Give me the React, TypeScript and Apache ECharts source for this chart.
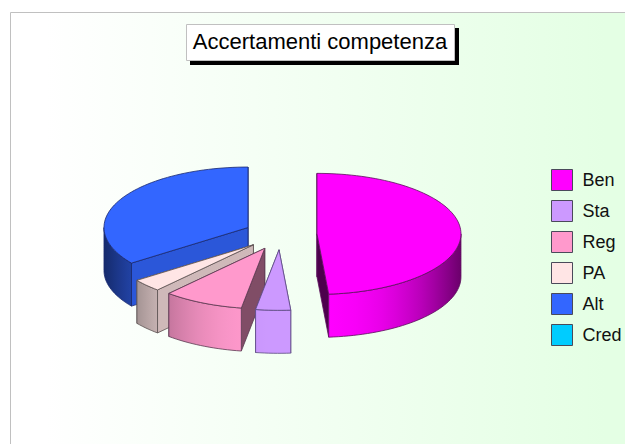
import React, { useEffect, useRef } from "react";
import * as echarts from "echarts";

const TITLE = "Accertamenti competenza";
const CATEGORIES = ["Ben", "Sta", "Reg", "PA", "Alt", "Cred"];
const SHARES = [48.7, 3.9, 9.0, 3.4, 35.0, 0];

const COLORS = ["#ff00ff", "#cc99ff", "#ff99cc", "#ffe5e5", "#3366ff", "#00ccff"];
const STROKES = ["#5a105a", "#5a4a80", "#5a3a50", "#5a5050", "#1a2a70", "#103a50"];
const WALL_SHADE = [0.3, 0.8, 0.5, 0.81, 0.85, 0.8];
const LAYER = [2, 5, 4, 3, 2, 2];

const CX = 280.5;
const CY = 234.5;
const RX = 144;
const RY = 60.5;
const DEPTH = 43;
const EXPLODE = 36.5;

const rad = (d: number) => (d * Math.PI) / 180;

function shade(hex: string, f: number) {
  const n = parseInt(hex.slice(1), 16);
  const c = (v: number) => Math.max(0, Math.min(255, Math.round(v * f)));
  return `rgb(${c((n >> 16) & 255)},${c((n >> 8) & 255)},${c(n & 255)})`;
}

function makeRender(index: number) {
  const total = SHARES.reduce((a, b) => a + b, 0);
  const startShare = SHARES.slice(0, index).reduce((a, b) => a + b, 0);
  return (_params: any, api: any) => {
    const value = api.value(0);
    if (!value) return { type: "group", children: [] };
    const a0 = (startShare / total) * 360;
    const a1 = a0 + (value / total) * 360;
    const mid = (a0 + a1) / 2;
    const ax = CX + EXPLODE * Math.sin(rad(mid));
    const ay = CY - EXPLODE * (RY / RX) * Math.cos(rad(mid));
    const rim = (a: number, dy = 0): number[] => [
      ax + RX * Math.sin(rad(a)),
      ay - RY * Math.cos(rad(a)) + dy,
    ];
    const arc = (from: number, to: number, dy = 0) => {
      const n = Math.max(2, Math.ceil(Math.abs(to - from) / 2));
      const pts: number[][] = [];
      for (let i = 0; i <= n; i++) pts.push(rim(from + ((to - from) * i) / n, dy));
      return pts;
    };
    const base = COLORS[index];
    const stroke = STROKES[index];
    const line = { stroke, lineWidth: 0.8, lineJoin: "round" };
    const children: any[] = [];

    // the wall facing away from the viewer goes first, so the visible one covers it
    (mid > 180 ? [a1, a0] : [a0, a1]).forEach((a) => {
      const r = rim(a);
      const r2 = rim(a, DEPTH);
      children.push({
        type: "polygon",
        shape: { points: [[ax, ay], r, r2, [ax, ay + DEPTH]] },
        style: { fill: shade(base, WALL_SHADE[index]), ...line },
      });
    });

    const s0 = Math.max(a0, 90);
    const s1 = Math.min(a1, 270);
    if (s1 > s0) {
      const front = arc(s0, s1);
      const back = arc(s1, s0, DEPTH);
      const xs = front.map((p) => p[0]);
      const minX = Math.min(...xs);
      const maxX = Math.max(...xs);
      const colorStops: any[] = [];
      for (let i = 0; i <= 10; i++) {
        const xn = Math.abs(minX + ((maxX - minX) * i) / 10 - ax) / RX;
        colorStops.push({ offset: i / 10, color: shade(base, 1 - 0.58 * Math.pow(xn, 2.3)) });
      }
      children.push({
        type: "polygon",
        shape: { points: [...front, ...back] },
        style: {
          fill: { type: "linear", x: 0, y: 0, x2: 1, y2: 0, colorStops },
          ...line,
        },
      });
    }

    children.push({
      type: "polygon",
      shape: { points: [[ax, ay], ...arc(a0, a1)] },
      style: { fill: base, ...line },
    });
    return { type: "group", children };
  };
}

export default function App() {
  const ref = useRef<HTMLDivElement>(null);
  useEffect(() => {
    document.body.style.margin = "0";
    document.body.style.background = "#ffffff";
    const chart = echarts.init(ref.current!, undefined, { renderer: "svg" });
    chart.setOption({
      animation: false,
      title: {
        text: TITLE,
        left: 320,
        top: 30,
        textAlign: "center",
        padding: 0,
        textStyle: {
          fontFamily: "Liberation Sans",
          fontSize: 22,
          fontWeight: "normal",
          color: "#000000",
        },
      },
      legend: {
        orient: "vertical",
        left: 551,
        top: 169,
        icon: "rect",
        itemWidth: 21,
        itemHeight: 21,
        itemGap: 9,
        padding: 0,
        selectedMode: false,
        textStyle: { fontFamily: "Liberation Sans", fontSize: 18, color: "#111111", padding: [0, 0, 0, 5] },
        data: CATEGORIES.map((name, i) => ({
          name,
          itemStyle: { color: COLORS[i], borderColor: "#4a4a5a", borderWidth: 1 },
        })),
      },
      graphic: [
        {
          type: "rect",
          z: 0,
          shape: { x: 10.5, y: 12.5, width: 700, height: 500 },
          style: {
            fill: {
              type: "linear",
              x: 0,
              y: 0,
              x2: 1,
              y2: 0,
              colorStops: [
                { offset: 0, color: "#ffffff" },
                { offset: 0.05, color: "#ffffff" },
                { offset: 0.85, color: "#e4ffe4" },
                { offset: 1, color: "#e4ffe4" },
              ],
            },
            stroke: "#c0c0c0",
            lineWidth: 1,
          },
        },
        {
          type: "rect",
          z: 1,
          shape: { x: 190, y: 28, width: 269, height: 37 },
          style: { fill: "#000000" },
        },
        {
          type: "rect",
          z: 1,
          shape: { x: 186.5, y: 24.5, width: 268, height: 36 },
          style: { fill: "#ffffff", stroke: "#c0c0c0", lineWidth: 1 },
        },
      ],
      series: CATEGORIES.map((name, i) => ({
        type: "custom",
        name,
        coordinateSystem: "none",
        z: LAYER[i],
        silent: true,
        itemStyle: { color: COLORS[i] },
        data: [[SHARES[i]]],
        renderItem: makeRender(i),
      })),
    });
    return () => chart.dispose();
  }, []);
  return <div ref={ref} style={{ width: 625, height: 444 }} />;
}
